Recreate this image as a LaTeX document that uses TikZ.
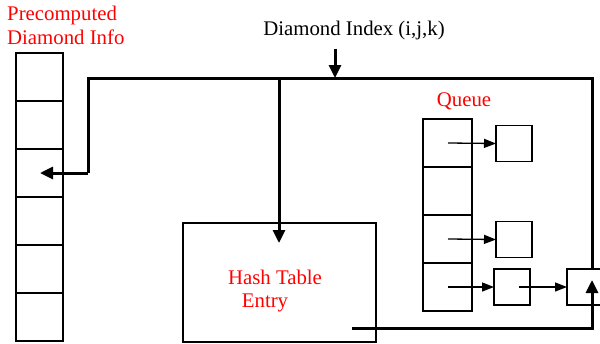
\documentclass[tikz,border=0pt]{standalone}
\usepackage{fontspec}
\setmainfont{Liberation Serif}
\usetikzlibrary{arrows.meta}
\begin{document}
\begin{tikzpicture}[x=1pt,y=-1pt,
  cell/.style={draw,line width=1.5pt,minimum width=47pt,minimum height=48pt,inner sep=0pt,outer sep=0pt},
  qcell/.style={draw,line width=1.5pt,minimum width=49pt,minimum height=48pt,inner sep=0pt,outer sep=0pt},
  sbox/.style={draw,line width=1.5pt,minimum width=36pt,minimum height=36pt,inner sep=0pt,outer sep=0pt},
  thick line/.style={line width=3pt},
  bigarrow/.style={line width=3pt,-{Triangle[length=13pt,width=12pt]}},
  thinarrow/.style={line width=1.3pt,-{Triangle[length=12pt,width=9pt]}},
  lbl/.style={inner sep=0pt,font=\fontsize{20.8}{24}\selectfont},
  red lbl/.style={lbl,text=red}]
\useasboundingbox (0,0) rectangle (600,343);
\clip (0,0) rectangle (600,343);
% labels
\node[red lbl,align=left,anchor=north west] (pre) at (7,6) {Precomputed\\Diamond Info};
\node[lbl] (di) at (354,30) {Diamond Index (i,j,k)};
\node[red lbl] (q) at (464,101) {Queue};
% left column
\foreach \i in {1,...,6}{
  \node[cell] (c\i) at (39.5,{53+48*(\i-1)+24}) {};
}
% queue column
\foreach \i in {1,...,4}{
  \node[qcell] (q\i) at (447.5,{119+48*(\i-1)+24}) {};
}
% small boxes
\node[sbox] (s1) at (514,143.5) {};
\node[sbox] (s2) at (514,239.5) {};
\node[sbox] (s3) at (512,287) {};
\node[draw,line width=1.5pt,minimum width=50pt,minimum height=36pt,inner sep=0pt,outer sep=0pt] (s4) at (592,287) {};
% hash table
\node[draw,line width=1.5pt,minimum width=193pt,minimum height=119pt,inner sep=0pt,outer sep=0pt] (ht) at (279.5,282.5) {};
\node[red lbl] (htl1) at (275,277) {Hash Table};
\node[red lbl] (htl2) at (265,302.5) {Entry};
% coordinates
\coordinate (tl) at (88,78);
\coordinate (tr) at (592,78);
\coordinate (tm) at (279,78);
\coordinate (tarr) at (335,78);
\coordinate (lbend) at (88,173);
\coordinate (ltip) at (40,173);
\coordinate (mtip) at (279,243);
\coordinate (hstart) at (352,328);
\coordinate (bcorner) at (592,328);
\coordinate (rtip) at (592,280);
% thick network
\draw[thick line] (lbend) -- (tl) -- (tr) -- (s4.north -| tr);
\draw[bigarrow] (lbend) -- (ltip);
\draw[bigarrow] (tm) -- (mtip);
\draw[bigarrow] (di.south -| tarr) ++(0,9) -- (tarr);
\draw[thick line] (hstart) -- (bcorner) -- ++(0,-1);
\draw[bigarrow] (bcorner) -- (rtip);
% thin arrows
\draw[thinarrow] (q1.center) ++(0.5,0) -- (s1.west);
\draw[thinarrow] (q3.center) ++(0.5,0) -- (s2.west);
\draw[thinarrow] (q4.center) ++(0.5,0) -- (s3.west);
\draw[thinarrow] (s3.center) ++(7,0) -- (s4.west);
\end{tikzpicture}
\end{document}
